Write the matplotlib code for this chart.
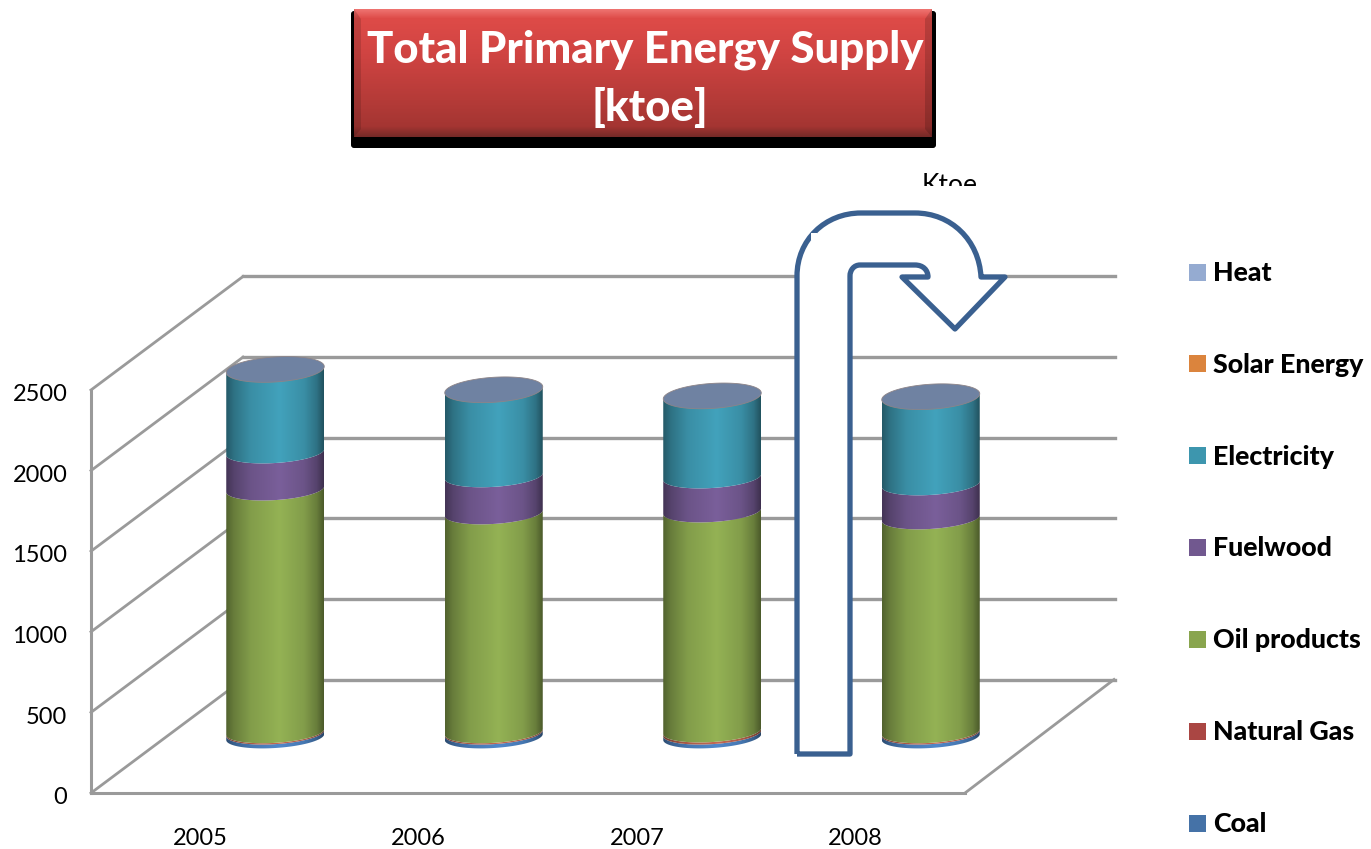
import numpy as np
import matplotlib
matplotlib.use("Agg")
import matplotlib.pyplot as plt
from matplotlib.patches import Polygon, Rectangle, PathPatch, FancyBboxPatch
from matplotlib.path import Path
from matplotlib.colors import to_rgb, LinearSegmentedColormap
from matplotlib.transforms import ScaledTranslation

# ---- data (ktoe) ----
years = ["2005", "2006", "2007", "2008"]
coal = [24, 24, 24, 24]
natural_gas = [8, 8, 13, 8]
oil_products = [1506, 1358, 1365, 1327]
fuelwood = [230, 230, 211, 211]
electricity = [511, 533, 502, 540]
solar_energy = [1, 1, 1, 1]
heat = [0, 0, 0, 0]
y_ticks = [0, 500, 1000, 1500, 2000, 2500]
legend_names = ["Heat", "Solar Energy", "Electricity", "Fuelwood", "Oil products", "Natural Gas", "Coal"]
legend_colors = ["#95ABD1", "#DB843D", "#3D96AE", "#71588F", "#89A54E", "#AA4643", "#4572A7"]
title_lines = ["Total Primary Energy Supply", "[ktoe]"]

W, H = 1371, 849
FONT = "Lato"
GRID = "#9a9a9a"

fig = plt.figure(figsize=(W / 100, H / 100), dpi=100, facecolor="white")
# the axes is the front plane of the 3-D box
ax = fig.add_axes([91 / W, 1 - 793 / H, (965 - 91) / W, (793 - 390) / H])
ax.set_facecolor("none")
ax.set_xlim(-0.5, 3.5)
ax.set_ylim(0, 2500)
px_x = 4.0 / (965 - 91)        # data x per pixel
px_v = 2500.0 / (793 - 390)    # data value per pixel

# depth of the box
DX = 152 * px_x
DV = 113.5 * px_v
for s in ["top", "right"]:
    ax.spines[s].set_visible(False)
for s in ["left", "bottom"]:
    ax.spines[s].set_color(GRID)
    ax.spines[s].set_linewidth(2.2)
ax.set_xticks(range(4), years, fontfamily=FONT, fontsize=17)
ax.set_yticks(y_ticks, [str(v) for v in y_ticks], fontfamily=FONT, fontsize=17)
ax.tick_params(axis="x", length=0, pad=25)
ax.tick_params(axis="y", length=0, pad=17)
nudge = ScaledTranslation(0, -2 / 72, fig.dpi_scale_trans)
for lab in ax.get_yticklabels():
    lab.set_transform(lab.get_transform() + nudge)

# box lines
for v in y_ticks:
    ax.plot([-0.5, -0.5 + DX], [v, v + DV], color=GRID, lw=2.0, clip_on=False, zorder=1)
    ax.plot([-0.5 + DX, 3.5 + DX - 2 * px_x], [v + DV, v + DV], color=GRID, lw=2.4, clip_on=False, zorder=1)
ax.plot([3.5, 3.5 + DX - 3 * px_x], [0, DV], color=GRID, lw=2.0, clip_on=False, zorder=1)

# cylinders
A = 49 * px_x
B = 11 * px_v
B_TOP = 12.5 * px_v
K = 3 * px_v
SHIFT_X = 75 * px_x
SHIFT_V = 56 * px_v


def shade(color):
    c = np.array(to_rgb(color))
    stops = [(0.0, c * 0.6), (0.08, c * 0.76), (0.25, c * 0.95), (0.55, c * 1.08), (0.8, c * 0.95), (0.93, c * 0.76), (1.0, c * 0.55)]
    return LinearSegmentedColormap.from_list("s", [(p, tuple(np.clip(q, 0, 1))) for p, q in stops])


grad = np.linspace(0, 1, 128)[None, :]
t_front = np.linspace(0, np.pi, 60)
series = [(coal, "#4A7EBB"), (natural_gas, "#B5604C"), (oil_products, "#89A54E"),
          (fuelwood, "#71588F"), (electricity, "#3D96AE")]

for i in range(4):
    cx = i + SHIFT_X
    base = SHIFT_V
    for vals, col in series:
        lo, hi = base, base + vals[i]
        xs = cx + A * np.cos(t_front)
        off = -B * np.sin(t_front) + K * np.cos(t_front)
        pts = np.r_[np.c_[xs, lo + off], np.c_[xs[::-1], (hi + off)[::-1]]]
        poly = Polygon(pts, closed=True, transform=ax.transData, facecolor="none", edgecolor="none")
        im = ax.imshow(grad, extent=[cx - A, cx + A, lo - B - K, hi + B + K], aspect="auto",
                       cmap=shade(col), zorder=3, interpolation="bilinear")
        im.set_clip_path(poly)
        im.set_clip_box(fig.bbox)
        base = hi
    t = np.linspace(0, 2 * np.pi, 120)
    ax.fill(cx + A * np.cos(t), base + solar_energy[i] - B_TOP * np.sin(t) + K * np.cos(t),
            facecolor="#6F82A2", edgecolor="#8d8488", lw=0.6, clip_on=False, zorder=4)
ax.set_xlim(-0.5, 3.5)
ax.set_ylim(0, 2500)

# ---- overlay in figure pixels: title banner, arrow, legend ----
ov = fig.add_axes([0, 0, 1, 1], zorder=5)
ov.set_facecolor("none")
ov.axis("off")
ov.set_xlim(0, W)
ov.set_ylim(H, 0)

# banner
ov.add_patch(FancyBboxPatch((353, 13), 581, 133, boxstyle="round,pad=2,rounding_size=3",
                            facecolor="black", edgecolor="none", zorder=1))
stops = [(0.0, "#EE7370"), (0.07, "#DE4B48"), (0.35, "#D04442"), (0.75, "#B23A37"), (0.92, "#A43532"), (1.0, "#762A28")]
cm = LinearSegmentedColormap.from_list("b", stops)
ov.imshow(np.linspace(0, 1, 128)[:, None], extent=[354, 932, 137, 9], aspect="auto", cmap=cm, zorder=2)
ov.set_xlim(0, W)
ov.set_ylim(H, 0)
ov.add_patch(Polygon([(354, 9), (361, 19), (361, 129), (354, 137)], facecolor="black", alpha=0.13, edgecolor="none", zorder=3))
ov.add_patch(Polygon([(932, 9), (925, 19), (925, 129), (932, 137)], facecolor="black", alpha=0.16, edgecolor="none", zorder=3))
ov.text(645, 50, title_lines[0], color="white", fontfamily=FONT, fontweight="black", fontsize=31.5,
        ha="center", va="center", zorder=4)
ov.text(650, 107, title_lines[1], color="white", fontfamily=FONT, fontweight="black", fontsize=31.5,
        ha="center", va="center", zorder=4)

# cropped Ktoe label
ktoe = ov.text(950, 185, "Ktoe", color="black", fontfamily=FONT, fontsize=19, ha="center", va="center", zorder=4)
ktoe.set_clip_path(Rectangle((880, 160), 150, 26, transform=ov.transData))
ktoe.set_clip_on(True)

# arrow
ov.add_patch(Rectangle((852, 270), 53, 11, facecolor="white", edgecolor="none", zorder=2))
M, L, C = Path.MOVETO, Path.LINETO, Path.CURVE4
verts = [(797, 754), (797, 276),
         (797, 240), (825, 213), (861, 213),
         (915, 213),
         (951, 213), (979, 240), (981, 277),
         (1005, 277), (955, 329), (902, 277), (928, 277),
         (928, 270), (923, 265), (915, 265),
         (860, 265),
         (854, 265), (850, 270), (850, 276),
         (850, 754), (797, 754)]
codes = [M, L, C, C, C, L, C, C, C, L, L, L, L, C, C, C, L, C, C, C, L, L]
ov.add_patch(PathPatch(Path(verts, codes), facecolor="white", edgecolor="#3A6090", lw=3.8,
                       joinstyle="round", zorder=3))
ov.add_patch(Rectangle((811, 233), 6, 7, facecolor="white", edgecolor="none", zorder=4))

# legend
leg_y = np.linspace(272, 823, len(legend_names))
for name, col, y in zip(legend_names, legend_colors, leg_y):
    ov.add_patch(Rectangle((1189, y - 8.5), 17, 17, facecolor=col, edgecolor="none"))
    ov.text(1213, y + 1, name, fontfamily=FONT, fontweight="black", fontsize=19.3, ha="left", va="center", color="black")

fig.savefig("out.png", dpi=100)
